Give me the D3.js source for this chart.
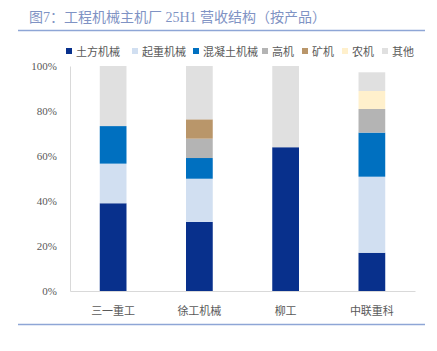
<!DOCTYPE html>
<html>
<head>
<meta charset="utf-8">
<script src="https://cdn.jsdelivr.net/npm/d3@7"></script>
<style>
body { margin: 0; background: #fff; }
svg text { font-family: "Liberation Serif", "Noto Sans CJK SC", serif; }
</style>
</head>
<body>
<div id="chart"></div>
<script>
var companies = ["三一重工", "徐工机械", "柳工", "中联重科"];
var products = ["土方机械", "起重机械", "混凝土机械", "高机", "矿机", "农机", "其他"];
var colors = ["#08308c", "#d1dff1", "#0070c0", "#b4b4b4", "#b9966a", "#fff0cc", "#e0e0e0"];

// share of revenue, %, one array per product (order follows companies)
var earthmoving = [39.0, 30.7, 63.9, 17.0];
var lifting = [17.6, 19.2, 0, 33.8];
var concrete = [16.7, 9.2, 0, 19.6];
var aerial = [0, 8.6, 0, 10.5];
var mining = [0, 8.6, 0, 0];
var agri = [0, 0, 0, 8.0];
var other = [26.7, 23.7, 36.1, 8.3];

var yTicks = [0, 20, 40, 60, 80, 100];

var series_values = [earthmoving, lifting, concrete, aerial, mining, agri, other];

var width = 437, height = 351;
var margin = { left: 70, top: 66, right: 22, bottom: 60 };
var plot_w = width - margin.left - margin.right;
var plot_h = height - margin.top - margin.bottom;

var svg = d3.select("#chart")
    .append("svg")
    .attr("width", width)
    .attr("height", height);

// title and rules
svg.append("text")
    .attr("x", 29)
    .attr("y", 22)
    .attr("font-size", 14)
    .attr("fill", "#7f93c4")
    .text("图7：工程机械主机厂 25H1 营收结构（按产品）");

svg.append("line")
    .attr("x1", 18).attr("x2", 425)
    .attr("y1", 30.5).attr("y2", 30.5)
    .attr("stroke", "#8ea6d6")
    .attr("stroke-width", 1.5);

svg.append("line")
    .attr("x1", 18).attr("x2", 425)
    .attr("y1", 324.5).attr("y2", 324.5)
    .attr("stroke", "#8ea6d6")
    .attr("stroke-width", 1.5);

// legend
var legend_x = [66, 132, 193, 262, 302, 342, 382];
var legend = svg.append("g");
products.forEach(function(p, i) {
    legend.append("rect")
        .attr("x", legend_x[i])
        .attr("y", 48)
        .attr("width", 6)
        .attr("height", 6)
        .attr("fill", colors[i]);
    legend.append("text")
        .attr("x", legend_x[i] + 10)
        .attr("y", 55.5)
        .attr("font-size", 11)
        .attr("fill", "#595959")
        .text(p);
});

var g = svg.append("g")
    .attr("transform", "translate(" + margin.left + "," + margin.top + ")");

var xScale = d3.scaleBand()
    .range([0, plot_w])
    .domain(companies)
    .paddingInner(0.69)
    .paddingOuter(0.345);

var yScale = d3.scaleLinear()
    .range([plot_h, 0])
    .domain([0, 100]);

// build stack table
var table = companies.map(function(c, ci) {
    var row = { company: c };
    products.forEach(function(p, pi) { row[p] = series_values[pi][ci]; });
    return row;
});
var stacked = d3.stack().keys(products)(table);

// axes
var yAxis = d3.axisLeft(yScale)
    .tickValues(yTicks)
    .tickSize(0)
    .tickPadding(13)
    .tickFormat(function(d) { return d + "%"; });

var yg = g.append("g").call(yAxis);
yg.select(".domain").attr("stroke", "#d9d9d9");
yg.selectAll("text").attr("font-size", 11).attr("fill", "#595959");

var xAxis = d3.axisBottom(xScale)
    .tickSize(0)
    .tickPadding(16);

var xg = g.append("g")
    .attr("transform", "translate(0," + plot_h + ")")
    .call(xAxis);
xg.select(".domain").attr("stroke", "#d9d9d9");
xg.selectAll("text").attr("font-size", 11).attr("fill", "#595959");

// bars
g.selectAll("g.layer")
    .data(stacked)
    .enter()
    .append("g")
    .attr("class", "layer")
    .attr("fill", function(d, i) { return colors[i]; })
    .selectAll("rect")
    .data(function(d) { return d.filter(function(s) { return s[1] - s[0] > 0; }); })
    .enter()
    .append("rect")
    .attr("x", function(d) { return xScale(d.data.company); })
    .attr("y", function(d) { return yScale(d[1]); })
    .attr("width", xScale.bandwidth())
    .attr("height", function(d) { return yScale(d[0]) - yScale(d[1]); });
</script>
</body>
</html>
